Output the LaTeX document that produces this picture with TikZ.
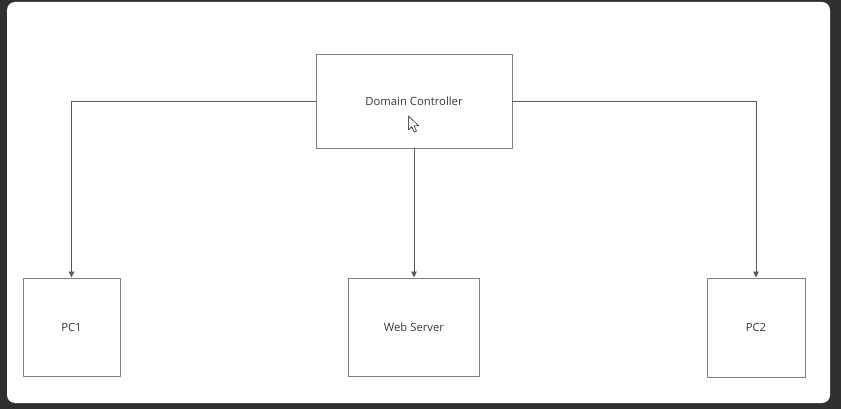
\documentclass[tikz,border=0pt]{standalone}
\usepackage{fontspec}
\setmainfont{Open Sans}
\usetikzlibrary{arrows.meta}
\definecolor{framedark}{HTML}{303030}
\definecolor{boxline}{HTML}{808080}
\definecolor{wireline}{HTML}{5A5A5A}
\definecolor{labeltext}{HTML}{383838}
\tikzset{
  hostbox/.style={draw=boxline, line width=0.95pt, fill=white, inner sep=0pt,
    font=\fontsize{11.3}{13}\selectfont, text=labeltext},
  wire/.style={draw=wireline, line width=0.9pt,
    -{Triangle[length=6pt,width=5.5pt]}},
}
\begin{document}
\begin{tikzpicture}[x=1pt,y=-1pt]
  % canvas and window frame
  \useasboundingbox (0,0) rectangle (841,409);
  \fill[framedark] (0,0) rectangle (841,409);
  \fill[white, rounded corners=8pt] (7,2) rectangle (830,403);

  % hosts
  \node[hostbox, minimum width=196pt, minimum height=94pt] (dc) at (414,101) {Domain Controller};
  \node[hostbox, minimum width=97pt, minimum height=98pt] (pc1) at (71.5,327) {PC1};
  \node[hostbox, minimum width=131pt, minimum height=98pt] (web) at (414,327) {Web Server};
  \node[hostbox, minimum width=98pt, minimum height=99pt] (pc2) at (756,327.5) {PC2};

  % links from the domain controller
  \draw[wire] (dc.west) -| (pc1.north);
  \draw[wire] (dc.south) -- (web.north);
  \draw[wire] (dc.east) -| (pc2.north);

  % mouse pointer
  \draw[fill=white, draw=black, line width=0.5pt, line join=miter]
    (408.5,116) -- (408.5,130) -- (411.8,126.8) -- (414.3,132) -- (416.5,131)
    -- (414,125.8) -- (418.5,125.8) -- cycle;
\end{tikzpicture}
\end{document}
